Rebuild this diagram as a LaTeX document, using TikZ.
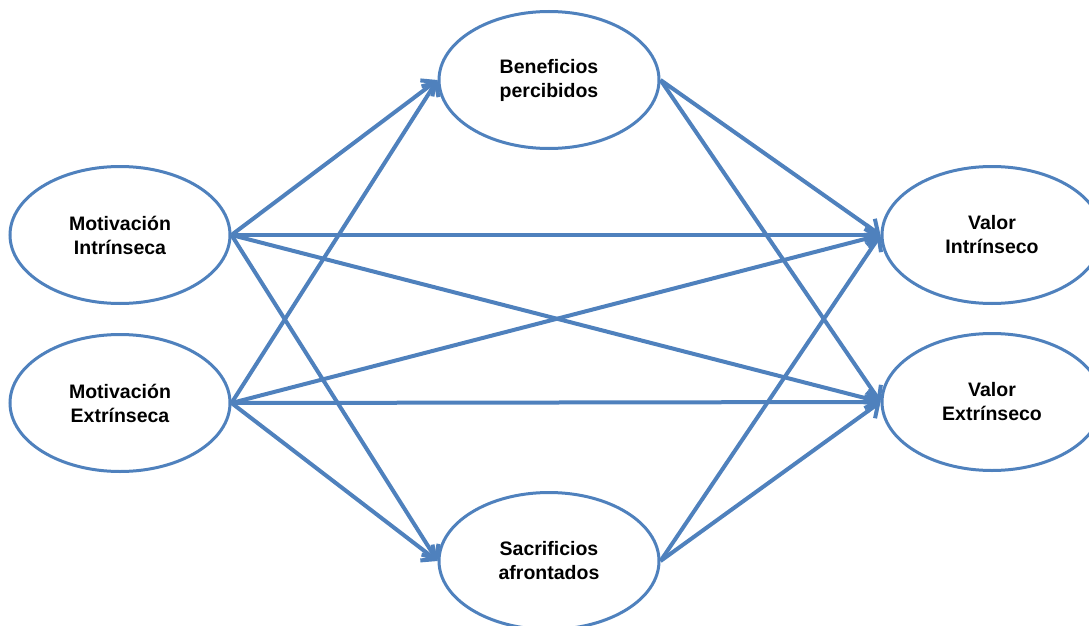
\documentclass[tikz,border=0pt]{standalone}
\usepackage{fontspec}
\setmainfont{Liberation Sans}
\usetikzlibrary{shapes.geometric,arrows.meta}
\definecolor{linkblue}{RGB}{79,129,189}
\begin{document}
\begin{tikzpicture}[x=1pt,y=-1pt,
  construct/.style={ellipse,draw=linkblue,line width=3pt,fill=white,
    minimum width=220pt,minimum height=137pt,inner sep=0pt,
    align=center,font=\bfseries\fontsize{19.5}{24}\selectfont},
  link/.style={draw=linkblue,line width=4pt,
    -{Straight Barb[length=11pt,width=20pt,line width=4pt]}}]
  \useasboundingbox (0,0) rectangle (1089,626);
  \clip (0,0) rectangle (1089,626);
  % constructs
  \node[construct] (mi)  at (120,235) {Motivación\\Intrínseca};
  \node[construct] (me)  at (120,403) {Motivación\\Extrínseca};
  \node[construct] (ben) at (549,80)  {Beneficios\\percibidos};
  \node[construct] (sac) at (549,561) {Sacrificios\\afrontados};
  \node[construct] (vi)  at (992,235) {Valor\\Intrínseco};
  \node[construct] (ve)  at (992,402) {Valor\\Extrínseco};
  % paths
  \foreach \s in {mi,me}{
    \foreach \t in {ben,sac,vi,ve}{
      \draw[link] (\s.east) -- (\t.west);
    }
  }
  \foreach \s in {ben,sac}{
    \foreach \t in {vi,ve}{
      \draw[link] (\s.east) -- (\t.west);
    }
  }
\end{tikzpicture}
\end{document}
